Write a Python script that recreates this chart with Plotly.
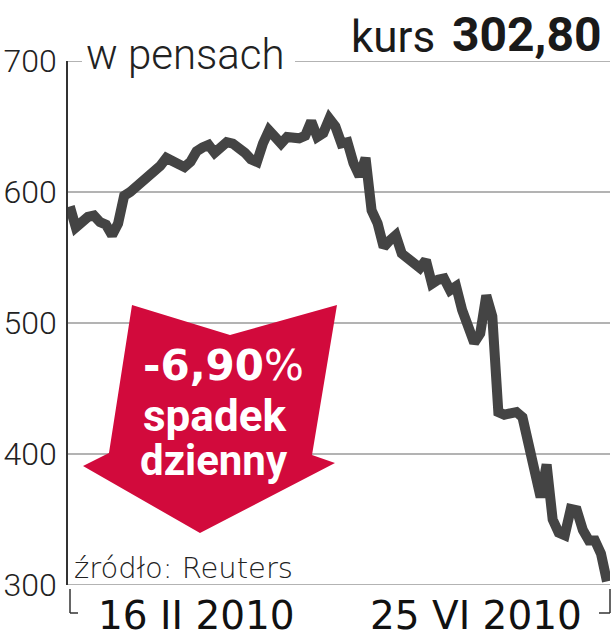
import plotly.graph_objects as go

# ---- data: daily closing price in pence, 16 II 2010 .. 25 VI 2010
prices = [589, 573, 577, 581, 582, 577, 575, 567, 576, 597,
          600, 604, 607, 611, 616, 620, 626, 624, 620, 619,
          623, 631, 634, 636, 630, 634, 638, 637, 634, 630,
          625, 623, 637, 647, 642, 637, 642, 642, 641, 643,
          654, 642, 645, 656, 650, 637, 638, 622, 612, 626,
          586, 576, 558, 563, 567, 553, 549, 545, 542, 548,
          530, 533, 534, 525, 528, 510, 495, 485, 492, 521,
          505, 432, 430, 432, 432, 428, 410, 390, 367, 392,
          350, 340, 338, 358, 357, 342, 334, 334, 324, 302.8]
days = list(range(len(prices)))
y_ticks = [300, 400, 500, 600, 700]
y_tick_labels = ["300", "400", "500", "600", "700"]
date_labels = ["16 II 2010", "25 VI 2010"]
last_price = "302,80"
change_label = "-6,90"

# ---- geometry helpers (pixels -> paper)
W, H = 612, 640
L, R, T, B = 68, 2, 61, 55
PW, PH = W - L - R, H - T - B


def px(x):
    return (x - L) / PW


def py(y):
    return (H - B - y) / PH


fig = go.Figure()
fig.add_trace(go.Scatter(
    x=days, y=prices, mode="lines",
    line=dict(color="#444444", width=10),
    hoverinfo="skip", showlegend=False,
))

GRID = dict(color="#9a9a9a", width=1.5)
shapes = []
# horizontal grid lines at the tick values (top one broken by the unit label)
for v in y_ticks[:-1]:
    shapes.append(dict(type="line", xref="paper", yref="y", x0=0, x1=1, y0=v, y1=v,
                       line=GRID, layer="below"))
for a, b in [(68, 82), (295, 610)]:
    shapes.append(dict(type="line", xref="paper", yref="y", x0=px(a), x1=px(b),
                       y0=y_ticks[-1], y1=y_ticks[-1], line=GRID, layer="below"))
# red arrow
arrow_pts = [(132, 305), (230, 335), (337, 305), (312, 455), (335, 463),
             (200, 533), (83, 466), (109, 453)]
path = "M " + " L ".join(f"{px(a):.4f},{py(b):.4f}" for a, b in arrow_pts) + " Z"
shapes.append(dict(type="path", path=path, xref="paper", yref="paper",
                   fillcolor="#D20A3C", line=dict(width=0), layer="below"))
# bottom brackets
for seg in [((70, 589), (70, 613)), ((70, 613), (78, 613)),
            ((610, 589), (610, 613)), ((599, 613), (610, 613))]:
    (x0, y0), (x1, y1) = seg
    shapes.append(dict(type="line", xref="paper", yref="paper",
                       x0=px(x0), y0=py(y0), x1=px(x1), y1=py(y1),
                       line=dict(color="#333333", width=1.5)))

ann = []
RB = "Roboto"
DJ = "DejaVu Sans"
ann.append(dict(text="w pensach", x=px(84), y=py(55), xanchor="left", yanchor="middle",
                font=dict(family=RB, size=42, color="#222222", weight=300)))
ann.append(dict(text="kurs", x=px(437), y=py(37), xanchor="right", yanchor="middle",
                font=dict(family=RB, size=44, color="#1a1a1a", weight=400)))
ann.append(dict(text=f"<b>{last_price}</b>", x=px(604), y=py(35), xanchor="right",
                yanchor="middle", font=dict(family=RB, size=48, color="#1a1a1a")))
ann.append(dict(text=date_labels[0], x=px(196), y=py(615), xanchor="center", yanchor="middle",
                font=dict(family=DJ, size=39, color="#111111")))
ann.append(dict(text=date_labels[1], x=px(476), y=py(615), xanchor="center", yanchor="middle",
                font=dict(family=DJ, size=39, color="#111111")))
ann.append(dict(text="źródło: Reuters", x=px(72), y=py(568), xanchor="left", yanchor="middle",
                font=dict(family=DJ, size=29, color="#222222", weight=200)))
ann.append(dict(text=f"<b>{change_label}</b><span style='font-weight:normal'>%</span>",
                x=px(223), y=py(365), xanchor="center",
                yanchor="middle", font=dict(family=DJ, size=42, color="white")))
ann.append(dict(text="<b>spadek</b>", x=px(214), y=py(416), xanchor="center", yanchor="middle",
                font=dict(family=RB, size=44, color="white")))
ann.append(dict(text="<b>dzienny</b>", x=px(214), y=py(461), xanchor="center", yanchor="middle",
                font=dict(family=RB, size=42, color="white")))
for a in ann:
    a.update(xref="paper", yref="paper", showarrow=False)

fig.update_layout(
    width=W, height=H,
    margin=dict(l=L, r=R, t=T, b=B, autoexpand=False),
    paper_bgcolor="white", plot_bgcolor="white",
    shapes=shapes, annotations=ann,
    xaxis=dict(range=[-0.3, 89.5], showgrid=False, zeroline=False, showline=False,
               showticklabels=False, ticks="", automargin=False),
    yaxis=dict(range=[300, 700], tickvals=y_ticks, ticktext=y_tick_labels,
               showgrid=False, zeroline=False, automargin=False,
               showline=True, linecolor="#333333", linewidth=1.5, ticks="",
               ticklabelstandoff=3,
               tickfont=dict(family=RB, size=32, color="#222222", weight=300)),
)

fig.write_html("out.html", config={"displayModeBar": False},
               post_script="document.body.style.margin='0';document.body.style.overflow='hidden';")
